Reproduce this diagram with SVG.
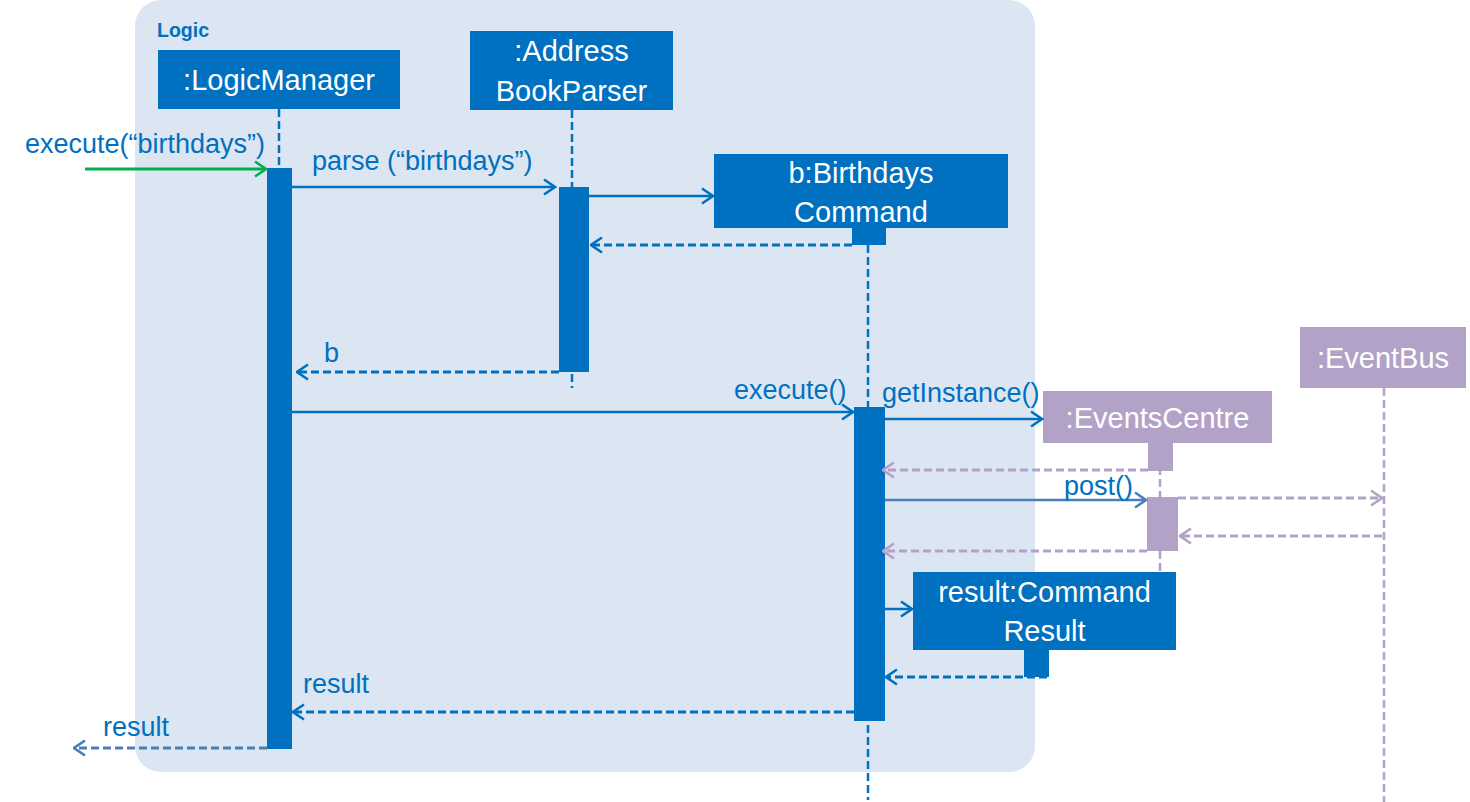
<svg xmlns="http://www.w3.org/2000/svg" width="1470" height="802" viewBox="0 0 1470 802">
<style>
.box{fill:#0070C0}
.pbox{fill:#B3A2C7}
.title{font-family:"Liberation Sans",Arial,sans-serif;font-size:29px;fill:#FFFFFF;text-anchor:middle}
.lbl{font-family:"Liberation Sans",Arial,sans-serif;font-size:27px;fill:#0070C0}
.life{stroke:#0070C0;stroke-width:2.5;stroke-dasharray:8,4;fill:none}
.plife{stroke:#B3A2C7;stroke-width:2.5;stroke-dasharray:8,4;fill:none}
.msg{stroke:#0070C0;stroke-width:2.5;fill:none;marker-end:url(#aBlue)}
.ret{stroke:#0070C0;stroke-width:2.8;stroke-dasharray:8,4;fill:none;marker-end:url(#aBlue)}
.pret{stroke:#B3A2C7;stroke-width:2.8;stroke-dasharray:8,4;fill:none;marker-end:url(#aPurple)}
</style>
<defs>
<marker id="aBlue" markerUnits="userSpaceOnUse" viewBox="0 0 14 18" refX="12.5" refY="9" markerWidth="14" markerHeight="18" orient="auto"><path d="M1.5,1.5 L12.5,9 L1.5,16.5" fill="none" stroke="#0070C0" stroke-width="2.6"/></marker>
<marker id="aPurple" markerUnits="userSpaceOnUse" viewBox="0 0 14 18" refX="12.5" refY="9" markerWidth="14" markerHeight="18" orient="auto"><path d="M1.5,1.5 L12.5,9 L1.5,16.5" fill="none" stroke="#B3A2C7" stroke-width="2.6"/></marker>
<marker id="aGreen" markerUnits="userSpaceOnUse" viewBox="0 0 14 18" refX="12.5" refY="9" markerWidth="14" markerHeight="18" orient="auto"><path d="M1.5,1.5 L12.5,9 L1.5,16.5" fill="none" stroke="#00B050" stroke-width="2.6"/></marker>
<marker id="aSteel" markerUnits="userSpaceOnUse" viewBox="0 0 14 18" refX="12.5" refY="9" markerWidth="14" markerHeight="18" orient="auto"><path d="M1.5,1.5 L12.5,9 L1.5,16.5" fill="none" stroke="#4A7EBB" stroke-width="2.6"/></marker>
</defs>
<rect x="0" y="0" width="1470" height="802" fill="#FFFFFF"/>
<g id="logic-frame">
<rect x="135" y="0" width="900" height="772" rx="26" ry="26" fill="#DCE6F2"/>
<text x="157" y="37" font-family="'Liberation Sans',Arial,sans-serif" font-size="19.5" font-weight="bold" fill="#0070C0">Logic</text>
</g>
<g id="logicManager">
<line class="life" x1="279" y1="109" x2="279" y2="168"/>
<rect class="box" x="158" y="50" width="242" height="59"/>
<text class="title" x="279" y="90">:LogicManager</text>
<rect class="box" x="267" y="168" width="25" height="581"/>
</g>
<g id="addressBookParser">
<line class="life" x1="572" y1="110" x2="572" y2="388"/>
<rect class="box" x="470" y="31" width="203" height="79"/>
<text class="title" x="571.5" y="61">:Address</text>
<text class="title" x="571.5" y="101">BookParser</text>
<rect class="box" x="559" y="187" width="30" height="185"/>
</g>
<g id="birthdaysCommand">
<line class="life" x1="868" y1="245" x2="868" y2="800"/>
<rect class="box" x="714" y="154" width="294" height="74"/>
<text class="title" x="861" y="183">b:Birthdays</text>
<text class="title" x="861" y="222">Command</text>
<rect class="box" x="852" y="226" width="34" height="19"/>
<rect class="box" x="854" y="407" width="31" height="314"/>
</g>
<g id="eventsCentre">
<line class="plife" x1="1160" y1="443" x2="1160" y2="572"/>
<rect class="pbox" x="1043" y="391" width="229" height="52"/>
<text class="title" x="1157.5" y="428">:EventsCentre</text>
<rect class="pbox" x="1148" y="441" width="25" height="30"/>
<rect class="pbox" x="1147" y="497" width="31" height="54"/>
</g>
<g id="eventBus">
<line class="plife" x1="1384" y1="388" x2="1384" y2="802"/>
<rect class="pbox" x="1300" y="327" width="166" height="61"/>
<text class="title" x="1383" y="368">:EventBus</text>
</g>
<g id="commandResult">
<rect class="box" x="913" y="572" width="263" height="78"/>
<text class="title" x="1044.5" y="602">result:Command</text>
<text class="title" x="1044.5" y="641">Result</text>
<rect class="box" x="1024" y="648" width="25" height="29"/>
</g>
<g id="connectors">
<line x1="85" y1="169" x2="266" y2="169" stroke="#00B050" stroke-width="2.8" marker-end="url(#aGreen)"/>
<text class="lbl" x="25" y="153">execute(“birthdays”)</text>
<line class="msg" x1="292" y1="187" x2="555" y2="187"/>
<text class="lbl" x="312" y="170">parse (“birthdays”)</text>
<line class="msg" x1="589" y1="196" x2="713" y2="196"/>
<line class="ret" x1="852" y1="245" x2="591" y2="245"/>
<line class="ret" x1="559" y1="372" x2="297" y2="372"/>
<text class="lbl" x="324" y="362">b</text>
<line class="msg" x1="292" y1="412" x2="853" y2="412"/>
<text class="lbl" x="734" y="399">execute()</text>
<line class="msg" x1="885" y1="419" x2="1042" y2="419"/>
<text class="lbl" x="882" y="402">getInstance()</text>
<line class="pret" x1="1148" y1="470" x2="883" y2="470"/>
<line x1="885" y1="500" x2="1146" y2="500" stroke="#4A7EBB" stroke-width="2.5" marker-end="url(#aSteel)"/>
<text class="lbl" x="1064" y="495">post()</text>
<line class="pret" x1="1178" y1="498" x2="1382" y2="498"/>
<line class="pret" x1="1382" y1="536" x2="1180" y2="536"/>
<line class="pret" x1="1147" y1="551" x2="883" y2="551"/>
<line class="msg" x1="885" y1="609" x2="912" y2="609"/>
<line class="ret" x1="1047" y1="677" x2="886" y2="677"/>
<line class="ret" x1="854" y1="712" x2="293" y2="712"/>
<text class="lbl" x="303" y="693">result</text>
<line x1="267" y1="748" x2="74" y2="748" stroke="#4A7EBB" stroke-width="2.8" stroke-dasharray="8,4" marker-end="url(#aSteel)"/>
<text class="lbl" x="103" y="736">result</text>
</g>
</svg>
